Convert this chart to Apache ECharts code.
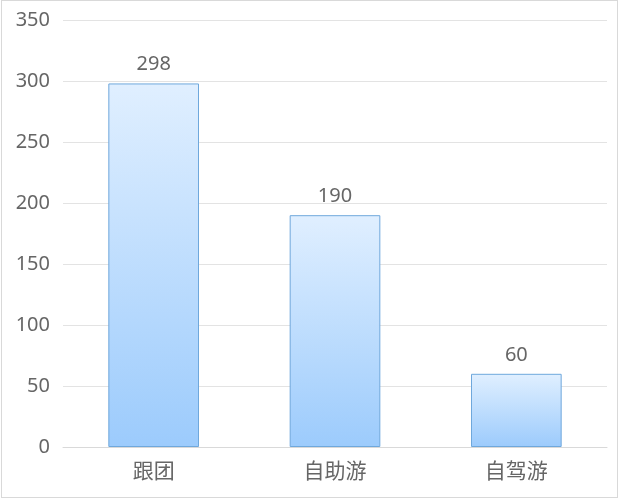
<!DOCTYPE html>
<html><head><meta charset="utf-8">
<script src="https://cdn.jsdelivr.net/npm/echarts@6/dist/echarts.min.js"></script>
<style>
html,body{margin:0;padding:0;background:#fff;}
#c{position:absolute;left:1px;top:0px;width:617px;height:498px;border:1px solid #d9d9d9;box-sizing:border-box;}
</style></head><body>
<div id="c"></div>
<script>
const categories = ['跟团', '自助游', '自驾游'];
const values = [298, 190, 60];
const yTicks = {min: 0, max: 350, interval: 50};

const chart = echarts.init(document.getElementById('c'));
chart.setOption({
  animation: false,
  grid: {left: 61, right: 10, top: 19, bottom: 50, containLabel: false},
  xAxis: {
    type: 'category', data: categories,
    axisLine: {lineStyle: {color: '#d9d9d9', width: 1}},
    axisTick: {show: false},
    axisLabel: {color: '#666666', fontSize: 21, margin: 13, fontFamily: 'Noto Sans CJK SC'}
  },
  yAxis: {
    type: 'value', min: yTicks.min, max: yTicks.max, interval: yTicks.interval,
    axisLine: {show: false}, axisTick: {show: false},
    axisLabel: {color: '#666666', fontSize: 20, margin: 13, fontFamily: 'Noto Sans'},
    splitLine: {lineStyle: {color: '#e3e3e3', width: 1}}
  },
  series: [{
    type: 'bar', data: values, barWidth: '50%',
    itemStyle: {
      borderColor: '#6fa8dc', borderWidth: 1,
      color: new echarts.graphic.LinearGradient(0, 0, 0, 1, [
        {offset: 0, color: '#e0efff'},
        {offset: 1, color: '#9ccbfc'}
      ])
    },
    label: {show: true, position: 'top', distance: 9, color: '#666666', fontSize: 20, fontFamily: 'Noto Sans'}
  }]
});
</script></body></html>
